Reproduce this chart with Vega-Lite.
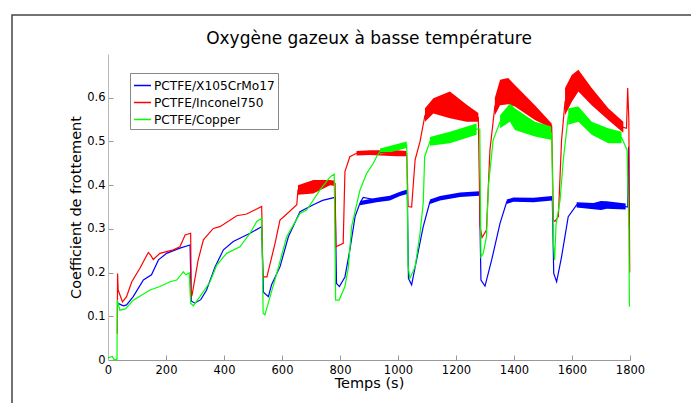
{
"$schema":"https://vega.github.io/schema/vega-lite/v6.json",
"width":522,"height":306,
"autosize":{"type":"none"},
"padding":{"left":108,"top":54,"right":61,"bottom":43},
"background":"white",
"config":{"view":{"stroke":null},"font":"DejaVu Sans"},
"title":{"text":"Oxygène gazeux à basse température","fontSize":17,"fontWeight":"normal","font":"DejaVu Sans","color":"black","anchor":"middle","offset":-47,"baseline":"alphabetic"},
"datasets":{
"curves":[
{"s":"PCTFE/X105CrMo17","t":33,"v":0.13},{"s":"PCTFE/X105CrMo17","t":53,"v":0.124},{"s":"PCTFE/X105CrMo17","t":64,"v":0.126},{"s":"PCTFE/X105CrMo17","t":87,"v":0.145},{"s":"PCTFE/X105CrMo17","t":122,"v":0.183},{"s":"PCTFE/X105CrMo17","t":150,"v":0.195},{"s":"PCTFE/X105CrMo17","t":174,"v":0.229},{"s":"PCTFE/X105CrMo17","t":202,"v":0.244},{"s":"PCTFE/X105CrMo17","t":248,"v":0.256},{"s":"PCTFE/X105CrMo17","t":283,"v":0.263},{"s":"PCTFE/X105CrMo17","t":287,"v":0.135},{"s":"PCTFE/X105CrMo17","t":299,"v":0.13},{"s":"PCTFE/X105CrMo17","t":320,"v":0.138},{"s":"PCTFE/X105CrMo17","t":340,"v":0.16},{"s":"PCTFE/X105CrMo17","t":369,"v":0.213},{"s":"PCTFE/X105CrMo17","t":398,"v":0.252},{"s":"PCTFE/X105CrMo17","t":432,"v":0.271},{"s":"PCTFE/X105CrMo17","t":490,"v":0.29},{"s":"PCTFE/X105CrMo17","t":530,"v":0.305},{"s":"PCTFE/X105CrMo17","t":536,"v":0.155},{"s":"PCTFE/X105CrMo17","t":553,"v":0.145},{"s":"PCTFE/X105CrMo17","t":564,"v":0.172},{"s":"PCTFE/X105CrMo17","t":593,"v":0.213},{"s":"PCTFE/X105CrMo17","t":622,"v":0.282},{"s":"PCTFE/X105CrMo17","t":662,"v":0.339},{"s":"PCTFE/X105CrMo17","t":708,"v":0.355},{"s":"PCTFE/X105CrMo17","t":740,"v":0.365},{"s":"PCTFE/X105CrMo17","t":783,"v":0.372},{"s":"PCTFE/X105CrMo17","t":788,"v":0.175},{"s":"PCTFE/X105CrMo17","t":798,"v":0.168},{"s":"PCTFE/X105CrMo17","t":817,"v":0.19},{"s":"PCTFE/X105CrMo17","t":834,"v":0.252},{"s":"PCTFE/X105CrMo17","t":852,"v":0.328},{"s":"PCTFE/X105CrMo17","t":869,"v":0.359},{"s":"PCTFE/X105CrMo17","t":880,"v":0.372},{"s":"PCTFE/X105CrMo17","t":926,"v":0.366},{"s":"PCTFE/X105CrMo17","t":972,"v":0.37},{"s":"PCTFE/X105CrMo17","t":1007,"v":0.38},{"s":"PCTFE/X105CrMo17","t":1032,"v":0.385},{"s":"PCTFE/X105CrMo17","t":1036,"v":0.187},{"s":"PCTFE/X105CrMo17","t":1047,"v":0.172},{"s":"PCTFE/X105CrMo17","t":1064,"v":0.229},{"s":"PCTFE/X105CrMo17","t":1087,"v":0.305},{"s":"PCTFE/X105CrMo17","t":1110,"v":0.362},{"s":"PCTFE/X105CrMo17","t":1145,"v":0.37},{"s":"PCTFE/X105CrMo17","t":1214,"v":0.378},{"s":"PCTFE/X105CrMo17","t":1281,"v":0.381},{"s":"PCTFE/X105CrMo17","t":1286,"v":0.183},{"s":"PCTFE/X105CrMo17","t":1300,"v":0.169},{"s":"PCTFE/X105CrMo17","t":1323,"v":0.229},{"s":"PCTFE/X105CrMo17","t":1352,"v":0.313},{"s":"PCTFE/X105CrMo17","t":1375,"v":0.362},{"s":"PCTFE/X105CrMo17","t":1398,"v":0.367},{"s":"PCTFE/X105CrMo17","t":1467,"v":0.366},{"s":"PCTFE/X105CrMo17","t":1532,"v":0.37},{"s":"PCTFE/X105CrMo17","t":1537,"v":0.198},{"s":"PCTFE/X105CrMo17","t":1547,"v":0.179},{"s":"PCTFE/X105CrMo17","t":1564,"v":0.236},{"s":"PCTFE/X105CrMo17","t":1587,"v":0.328},{"s":"PCTFE/X105CrMo17","t":1616,"v":0.355},{"s":"PCTFE/X105CrMo17","t":1674,"v":0.352},{"s":"PCTFE/X105CrMo17","t":1720,"v":0.355},{"s":"PCTFE/X105CrMo17","t":1785,"v":0.351},{"s":"PCTFE/X105CrMo17","t":1792,"v":0.35},{"s":"PCTFE/X105CrMo17","t":1795,"v":0.488},{"s":"PCTFE/X105CrMo17","t":1798,"v":0.3},
{"s":"PCTFE/Inconel750","t":32,"v":0.06},{"s":"PCTFE/Inconel750","t":33,"v":0.198},{"s":"PCTFE/Inconel750","t":35,"v":0.16},{"s":"PCTFE/Inconel750","t":50,"v":0.133},{"s":"PCTFE/Inconel750","t":64,"v":0.145},{"s":"PCTFE/Inconel750","t":82,"v":0.179},{"s":"PCTFE/Inconel750","t":110,"v":0.21},{"s":"PCTFE/Inconel750","t":139,"v":0.246},{"s":"PCTFE/Inconel750","t":147,"v":0.24},{"s":"PCTFE/Inconel750","t":156,"v":0.23},{"s":"PCTFE/Inconel750","t":179,"v":0.244},{"s":"PCTFE/Inconel750","t":225,"v":0.252},{"s":"PCTFE/Inconel750","t":248,"v":0.259},{"s":"PCTFE/Inconel750","t":266,"v":0.286},{"s":"PCTFE/Inconel750","t":285,"v":0.29},{"s":"PCTFE/Inconel750","t":287,"v":0.145},{"s":"PCTFE/Inconel750","t":290,"v":0.149},{"s":"PCTFE/Inconel750","t":311,"v":0.229},{"s":"PCTFE/Inconel750","t":329,"v":0.275},{"s":"PCTFE/Inconel750","t":363,"v":0.301},{"s":"PCTFE/Inconel750","t":386,"v":0.305},{"s":"PCTFE/Inconel750","t":444,"v":0.33},{"s":"PCTFE/Inconel750","t":478,"v":0.334},{"s":"PCTFE/Inconel750","t":530,"v":0.351},{"s":"PCTFE/Inconel750","t":534,"v":0.19},{"s":"PCTFE/Inconel750","t":548,"v":0.19},{"s":"PCTFE/Inconel750","t":576,"v":0.267},{"s":"PCTFE/Inconel750","t":593,"v":0.32},{"s":"PCTFE/Inconel750","t":610,"v":0.33},{"s":"PCTFE/Inconel750","t":651,"v":0.355},{"s":"PCTFE/Inconel750","t":655,"v":0.389},{"s":"PCTFE/Inconel750","t":708,"v":0.397},{"s":"PCTFE/Inconel750","t":766,"v":0.406},{"s":"PCTFE/Inconel750","t":783,"v":0.404},{"s":"PCTFE/Inconel750","t":786,"v":0.259},{"s":"PCTFE/Inconel750","t":811,"v":0.267},{"s":"PCTFE/Inconel750","t":817,"v":0.431},{"s":"PCTFE/Inconel750","t":834,"v":0.465},{"s":"PCTFE/Inconel750","t":857,"v":0.473},{"s":"PCTFE/Inconel750","t":903,"v":0.475},{"s":"PCTFE/Inconel750","t":995,"v":0.474},{"s":"PCTFE/Inconel750","t":1030,"v":0.472},{"s":"PCTFE/Inconel750","t":1035,"v":0.351},{"s":"PCTFE/Inconel750","t":1047,"v":0.35},{"s":"PCTFE/Inconel750","t":1059,"v":0.458},{"s":"PCTFE/Inconel750","t":1076,"v":0.5},{"s":"PCTFE/Inconel750","t":1093,"v":0.56},{"s":"PCTFE/Inconel750","t":1122,"v":0.582},{"s":"PCTFE/Inconel750","t":1179,"v":0.584},{"s":"PCTFE/Inconel750","t":1237,"v":0.565},{"s":"PCTFE/Inconel750","t":1277,"v":0.555},{"s":"PCTFE/Inconel750","t":1283,"v":0.305},{"s":"PCTFE/Inconel750","t":1290,"v":0.28},{"s":"PCTFE/Inconel750","t":1305,"v":0.297},{"s":"PCTFE/Inconel750","t":1317,"v":0.48},{"s":"PCTFE/Inconel750","t":1334,"v":0.58},{"s":"PCTFE/Inconel750","t":1352,"v":0.612},{"s":"PCTFE/Inconel750","t":1380,"v":0.615},{"s":"PCTFE/Inconel750","t":1403,"v":0.605},{"s":"PCTFE/Inconel750","t":1472,"v":0.566},{"s":"PCTFE/Inconel750","t":1530,"v":0.535},{"s":"PCTFE/Inconel750","t":1536,"v":0.32},{"s":"PCTFE/Inconel750","t":1541,"v":0.317},{"s":"PCTFE/Inconel750","t":1553,"v":0.328},{"s":"PCTFE/Inconel750","t":1564,"v":0.503},{"s":"PCTFE/Inconel750","t":1576,"v":0.591},{"s":"PCTFE/Inconel750","t":1599,"v":0.621},{"s":"PCTFE/Inconel750","t":1622,"v":0.639},{"s":"PCTFE/Inconel750","t":1668,"v":0.603},{"s":"PCTFE/Inconel750","t":1725,"v":0.562},{"s":"PCTFE/Inconel750","t":1777,"v":0.532},{"s":"PCTFE/Inconel750","t":1788,"v":0.53},{"s":"PCTFE/Inconel750","t":1792,"v":0.622},{"s":"PCTFE/Inconel750","t":1796,"v":0.55},{"s":"PCTFE/Inconel750","t":1799,"v":0.2},
{"s":"PCTFE/Copper","t":0,"v":0.005},{"s":"PCTFE/Copper","t":15,"v":0.008},{"s":"PCTFE/Copper","t":20,"v":0.002},{"s":"PCTFE/Copper","t":31,"v":0.0},{"s":"PCTFE/Copper","t":32,"v":0.137},{"s":"PCTFE/Copper","t":41,"v":0.114},{"s":"PCTFE/Copper","t":60,"v":0.117},{"s":"PCTFE/Copper","t":87,"v":0.137},{"s":"PCTFE/Copper","t":145,"v":0.16},{"s":"PCTFE/Copper","t":179,"v":0.168},{"s":"PCTFE/Copper","t":214,"v":0.179},{"s":"PCTFE/Copper","t":237,"v":0.183},{"s":"PCTFE/Copper","t":260,"v":0.202},{"s":"PCTFE/Copper","t":268,"v":0.195},{"s":"PCTFE/Copper","t":280,"v":0.199},{"s":"PCTFE/Copper","t":285,"v":0.13},{"s":"PCTFE/Copper","t":294,"v":0.124},{"s":"PCTFE/Copper","t":317,"v":0.145},{"s":"PCTFE/Copper","t":352,"v":0.179},{"s":"PCTFE/Copper","t":375,"v":0.217},{"s":"PCTFE/Copper","t":409,"v":0.244},{"s":"PCTFE/Copper","t":455,"v":0.259},{"s":"PCTFE/Copper","t":490,"v":0.29},{"s":"PCTFE/Copper","t":513,"v":0.317},{"s":"PCTFE/Copper","t":530,"v":0.324},{"s":"PCTFE/Copper","t":535,"v":0.107},{"s":"PCTFE/Copper","t":541,"v":0.103},{"s":"PCTFE/Copper","t":559,"v":0.145},{"s":"PCTFE/Copper","t":582,"v":0.198},{"s":"PCTFE/Copper","t":616,"v":0.282},{"s":"PCTFE/Copper","t":662,"v":0.335},{"s":"PCTFE/Copper","t":685,"v":0.343},{"s":"PCTFE/Copper","t":708,"v":0.366},{"s":"PCTFE/Copper","t":731,"v":0.389},{"s":"PCTFE/Copper","t":766,"v":0.419},{"s":"PCTFE/Copper","t":780,"v":0.425},{"s":"PCTFE/Copper","t":785,"v":0.137},{"s":"PCTFE/Copper","t":797,"v":0.137},{"s":"PCTFE/Copper","t":817,"v":0.168},{"s":"PCTFE/Copper","t":829,"v":0.213},{"s":"PCTFE/Copper","t":840,"v":0.305},{"s":"PCTFE/Copper","t":869,"v":0.389},{"s":"PCTFE/Copper","t":892,"v":0.427},{"s":"PCTFE/Copper","t":915,"v":0.45},{"s":"PCTFE/Copper","t":926,"v":0.465},{"s":"PCTFE/Copper","t":938,"v":0.477},{"s":"PCTFE/Copper","t":984,"v":0.484},{"s":"PCTFE/Copper","t":1030,"v":0.492},{"s":"PCTFE/Copper","t":1035,"v":0.213},{"s":"PCTFE/Copper","t":1041,"v":0.187},{"s":"PCTFE/Copper","t":1059,"v":0.213},{"s":"PCTFE/Copper","t":1076,"v":0.29},{"s":"PCTFE/Copper","t":1087,"v":0.359},{"s":"PCTFE/Copper","t":1092,"v":0.465},{"s":"PCTFE/Copper","t":1110,"v":0.5},{"s":"PCTFE/Copper","t":1179,"v":0.509},{"s":"PCTFE/Copper","t":1271,"v":0.528},{"s":"PCTFE/Copper","t":1282,"v":0.528},{"s":"PCTFE/Copper","t":1286,"v":0.236},{"s":"PCTFE/Copper","t":1294,"v":0.244},{"s":"PCTFE/Copper","t":1305,"v":0.282},{"s":"PCTFE/Copper","t":1312,"v":0.4},{"s":"PCTFE/Copper","t":1328,"v":0.503},{"s":"PCTFE/Copper","t":1352,"v":0.545},{"s":"PCTFE/Copper","t":1386,"v":0.566},{"s":"PCTFE/Copper","t":1403,"v":0.551},{"s":"PCTFE/Copper","t":1472,"v":0.528},{"s":"PCTFE/Copper","t":1530,"v":0.519},{"s":"PCTFE/Copper","t":1536,"v":0.267},{"s":"PCTFE/Copper","t":1540,"v":0.229},{"s":"PCTFE/Copper","t":1545,"v":0.31},{"s":"PCTFE/Copper","t":1559,"v":0.366},{"s":"PCTFE/Copper","t":1570,"v":0.458},{"s":"PCTFE/Copper","t":1587,"v":0.557},{"s":"PCTFE/Copper","t":1622,"v":0.562},{"s":"PCTFE/Copper","t":1668,"v":0.53},{"s":"PCTFE/Copper","t":1725,"v":0.513},{"s":"PCTFE/Copper","t":1771,"v":0.509},{"s":"PCTFE/Copper","t":1790,"v":0.48},{"s":"PCTFE/Copper","t":1796,"v":0.3},{"s":"PCTFE/Copper","t":1798,"v":0.122}
],
"bands":[
{"s":"PCTFE/X105CrMo17","g":"b4","t":869,"lo":0.354,"hi":0.364},{"s":"PCTFE/X105CrMo17","g":"b4","t":926,"lo":0.361,"hi":0.371},{"s":"PCTFE/X105CrMo17","g":"b4","t":972,"lo":0.365,"hi":0.376},{"s":"PCTFE/X105CrMo17","g":"b4","t":1007,"lo":0.375,"hi":0.385},{"s":"PCTFE/X105CrMo17","g":"b4","t":1032,"lo":0.38,"hi":0.39},
{"s":"PCTFE/X105CrMo17","g":"b5","t":1110,"lo":0.357,"hi":0.367},{"s":"PCTFE/X105CrMo17","g":"b5","t":1145,"lo":0.365,"hi":0.375},{"s":"PCTFE/X105CrMo17","g":"b5","t":1214,"lo":0.373,"hi":0.383},{"s":"PCTFE/X105CrMo17","g":"b5","t":1281,"lo":0.376,"hi":0.386},
{"s":"PCTFE/X105CrMo17","g":"b6","t":1375,"lo":0.357,"hi":0.367},{"s":"PCTFE/X105CrMo17","g":"b6","t":1398,"lo":0.362,"hi":0.372},{"s":"PCTFE/X105CrMo17","g":"b6","t":1467,"lo":0.361,"hi":0.371},{"s":"PCTFE/X105CrMo17","g":"b6","t":1532,"lo":0.365,"hi":0.375},
{"s":"PCTFE/X105CrMo17","g":"b7","t":1616,"lo":0.349,"hi":0.361},{"s":"PCTFE/X105CrMo17","g":"b7","t":1674,"lo":0.345,"hi":0.359},{"s":"PCTFE/X105CrMo17","g":"b7","t":1700,"lo":0.343,"hi":0.364},{"s":"PCTFE/X105CrMo17","g":"b7","t":1720,"lo":0.346,"hi":0.363},{"s":"PCTFE/X105CrMo17","g":"b7","t":1785,"lo":0.344,"hi":0.358},
{"s":"PCTFE/Inconel750","g":"r3","t":655,"lo":0.378,"hi":0.4},{"s":"PCTFE/Inconel750","g":"r3","t":708,"lo":0.381,"hi":0.412},{"s":"PCTFE/Inconel750","g":"r3","t":766,"lo":0.4,"hi":0.412},{"s":"PCTFE/Inconel750","g":"r3","t":783,"lo":0.398,"hi":0.41},
{"s":"PCTFE/Inconel750","g":"r4","t":857,"lo":0.468,"hi":0.478},{"s":"PCTFE/Inconel750","g":"r4","t":903,"lo":0.469,"hi":0.48},{"s":"PCTFE/Inconel750","g":"r4","t":995,"lo":0.466,"hi":0.48},{"s":"PCTFE/Inconel750","g":"r4","t":1030,"lo":0.466,"hi":0.478},
{"s":"PCTFE/Inconel750","g":"r5","t":1093,"lo":0.545,"hi":0.576},{"s":"PCTFE/Inconel750","g":"r5","t":1122,"lo":0.564,"hi":0.599},{"s":"PCTFE/Inconel750","g":"r5","t":1179,"lo":0.553,"hi":0.614},{"s":"PCTFE/Inconel750","g":"r5","t":1237,"lo":0.545,"hi":0.584},{"s":"PCTFE/Inconel750","g":"r5","t":1277,"lo":0.545,"hi":0.565},
{"s":"PCTFE/Inconel750","g":"r6","t":1334,"lo":0.56,"hi":0.6},{"s":"PCTFE/Inconel750","g":"r6","t":1352,"lo":0.583,"hi":0.641},{"s":"PCTFE/Inconel750","g":"r6","t":1380,"lo":0.585,"hi":0.645},{"s":"PCTFE/Inconel750","g":"r6","t":1403,"lo":0.58,"hi":0.629},{"s":"PCTFE/Inconel750","g":"r6","t":1472,"lo":0.549,"hi":0.583},{"s":"PCTFE/Inconel750","g":"r6","t":1530,"lo":0.53,"hi":0.541},
{"s":"PCTFE/Inconel750","g":"r7","t":1576,"lo":0.56,"hi":0.622},{"s":"PCTFE/Inconel750","g":"r7","t":1599,"lo":0.59,"hi":0.652},{"s":"PCTFE/Inconel750","g":"r7","t":1622,"lo":0.614,"hi":0.664},{"s":"PCTFE/Inconel750","g":"r7","t":1668,"lo":0.583,"hi":0.622},{"s":"PCTFE/Inconel750","g":"r7","t":1725,"lo":0.549,"hi":0.576},{"s":"PCTFE/Inconel750","g":"r7","t":1777,"lo":0.52,"hi":0.545},
{"s":"PCTFE/Copper","g":"g4","t":938,"lo":0.47,"hi":0.484},{"s":"PCTFE/Copper","g":"g4","t":984,"lo":0.477,"hi":0.492},{"s":"PCTFE/Copper","g":"g4","t":1030,"lo":0.485,"hi":0.5},
{"s":"PCTFE/Copper","g":"g5","t":1110,"lo":0.49,"hi":0.51},{"s":"PCTFE/Copper","g":"g5","t":1179,"lo":0.496,"hi":0.522},{"s":"PCTFE/Copper","g":"g5","t":1271,"lo":0.515,"hi":0.541},
{"s":"PCTFE/Copper","g":"g6","t":1352,"lo":0.53,"hi":0.56},{"s":"PCTFE/Copper","g":"g6","t":1386,"lo":0.545,"hi":0.587},{"s":"PCTFE/Copper","g":"g6","t":1403,"lo":0.526,"hi":0.576},{"s":"PCTFE/Copper","g":"g6","t":1472,"lo":0.511,"hi":0.545},{"s":"PCTFE/Copper","g":"g6","t":1530,"lo":0.503,"hi":0.534},
{"s":"PCTFE/Copper","g":"g7","t":1587,"lo":0.538,"hi":0.576},{"s":"PCTFE/Copper","g":"g7","t":1622,"lo":0.545,"hi":0.58},{"s":"PCTFE/Copper","g":"g7","t":1668,"lo":0.515,"hi":0.545},{"s":"PCTFE/Copper","g":"g7","t":1725,"lo":0.496,"hi":0.53},{"s":"PCTFE/Copper","g":"g7","t":1771,"lo":0.496,"hi":0.522}
]
},
"layer":[
{"data":{"values":[{}]},
 "mark":{"type":"rect","fill":"transparent","stroke":"#444444","strokeWidth":1.5,"clip":false},
 "encoding":{
  "x":{"datum":-331,"type":"quantitative","scale":{"domain":[0,1800],"nice":false,"zero":false}},
  "x2":{"datum":2300},
  "y":{"datum":0.7895,"type":"quantitative","scale":{"domain":[0,0.7],"nice":false,"zero":false}},
  "y2":{"datum":-0.3}}},
{"data":{"name":"bands"},
 "mark":{"type":"area","opacity":1},
 "encoding":{
  "x":{"field":"t","type":"quantitative","scale":{"domain":[0,1800],"nice":false,"zero":false}},
  "y":{"field":"lo","type":"quantitative","scale":{"domain":[0,0.7],"nice":false,"zero":false}},
  "y2":{"field":"hi"},
  "detail":{"field":"g"},
  "color":{"field":"s","type":"nominal","scale":{"domain":["PCTFE/X105CrMo17","PCTFE/Inconel750","PCTFE/Copper"],"range":["#0000ff","#ff0000","#00ff00"]}}}},
{"data":{"name":"curves"},
 "mark":{"type":"line","strokeWidth":1.2},
 "encoding":{
  "x":{"field":"t","type":"quantitative","scale":{"domain":[0,1800],"nice":false,"zero":false},
   "axis":{"title":"Temps (s)","values":[0,200,400,600,800,1000,1200,1400,1600,1800],"format":"d","grid":false,"domainColor":"#999999","tickColor":"#999999","tickSize":-5,"labelPadding":9,"labelFontSize":11.5,"labelFont":"DejaVu Sans","labelColor":"black","labelFlush":false,"titleFontSize":14.5,"titleFont":"DejaVu Sans","titleFontWeight":"normal","titleColor":"black","titlePadding":1}},
  "y":{"field":"v","type":"quantitative","scale":{"domain":[0,0.7],"nice":false,"zero":false},
   "axis":{"title":"Coefficient de frottement","values":[0,0.1,0.2,0.3,0.4,0.5,0.6],"format":".1~f","grid":false,"domainColor":"#bbbbbb","tickColor":"#999999","tickSize":-5,"labelPadding":8,"labelFontSize":11.5,"labelFont":"DejaVu Sans","labelColor":"black","labelFlush":false,"titleFontSize":14.5,"titleFont":"DejaVu Sans","titleFontWeight":"normal","titleColor":"black","titlePadding":3}},
  "color":{"field":"s","type":"nominal","scale":{"domain":["PCTFE/X105CrMo17","PCTFE/Inconel750","PCTFE/Copper"],"range":["#0000ff","#ff0000","#00ff00"]},
   "legend":{"orient":"none","legendX":22,"legendY":19,"title":null,"symbolType":"stroke","symbolSize":289,"symbolStrokeWidth":1.5,"labelFontSize":12.2,"labelFont":"DejaVu Sans","labelColor":"black","strokeColor":"#888888","fillColor":"white","padding":3,"rowPadding":1,"labelOffset":2,"labelLimit":0}}}}
]
}
